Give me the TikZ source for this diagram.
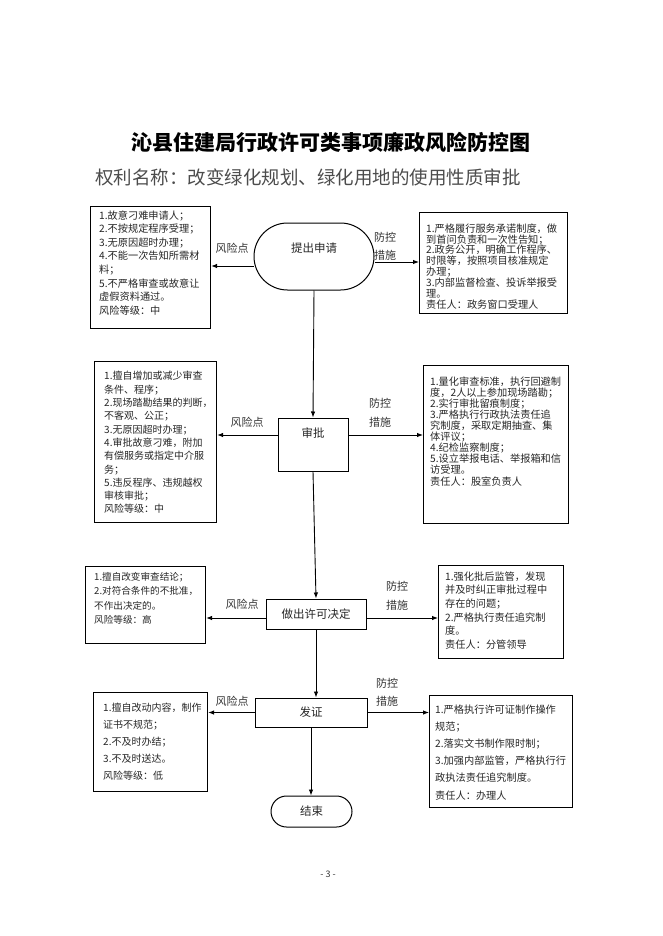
\documentclass[tikz,border=0pt]{standalone}
\usepackage{fontspec}
\setmainfont{Noto Sans CJK SC}
\usetikzlibrary{arrows.meta,shapes.misc}
\newcommand{\boxfont}[2]{\fontsize{#1}{#2}\selectfont}
\tikzset{
  riskbox/.style={draw,line width=1.1pt,anchor=north west,inner sep=0pt},
  bodytext/.style={anchor=north west,inner sep=0pt,align=left,text=black!85},
  stepbox/.style={draw,line width=1pt,inner sep=0pt,text=black!85,font=\boxfont{11.5}{12}},
  termbox/.style={rounded rectangle,draw,line width=1pt,inner sep=0pt,text=black!85,font=\boxfont{11.5}{12}},
  tag/.style={inner sep=0pt,align=center,text=black!80,font=\boxfont{11}{18.5}},
  arr/.style={-{Latex[length=6pt,width=4.5pt]},line width=0.9pt},
  link/.style={line width=0.9pt}
}
\begin{document}
\begin{tikzpicture}[x=1pt,y=-1pt]
\useasboundingbox (0,0) rectangle (662,936);

\node[font=\bfseries\boxfont{21}{21}] (title) at (331,142) {沁县住建局行政许可类事项廉政风险防控图};
\node[anchor=west,inner sep=0pt,text=black!70,font=\boxfont{18.5}{18.5}] (subtitle) at (95,177) {权利名称：改变绿化规划、绿化用地的使用性质审批};

\foreach \n/\x/\y/\w/\h in {risk1/90/206/120/122, ctrl1/419/212/148/101,
  risk2/94/361/122/161, ctrl2/423/365/145/158,
  risk3/85/566/120/77, ctrl3/438/565/125/93,
  risk4/93/692/114/99, ctrl4/429/695/143/112}
  {\node[riskbox,minimum width=\w,minimum height=\h] (\n) at (\x,\y) {};}

\node[bodytext,font=\boxfont{10.2}{13.6}] (risk1t) at (99,210.3) {1.故意刁难申请人；\\2.不按规定程序受理；\\3.无原因超时办理；\\4.不能一次告知所需材\\料；\\5.不严格审查或故意让\\虚假资料通过。\\风险等级：中};
\node[bodytext,font=\boxfont{10.2}{10.9}] (ctrl1t) at (426,223.3) {1.严格履行服务承诺制度，做\\到首问负责和一次性告知；\\2.政务公开，明确工作程序、\\时限等，按照项目核准规定\\办理；\\3.内部监督检查、投诉举报受\\理。\\责任人：政务窗口受理人};
\node[bodytext,font=\boxfont{10}{13.3}] (risk2t) at (104,371.3) {1.擅自增加或减少审查\\条件、程序；\\2.现场踏勘结果的判断，\\不客观、公正；\\3.无原因超时办理；\\4.审批故意刁难，附加\\有偿服务或指定中介服\\务；\\5.违反程序、违规越权\\审核审批；\\风险等级：中};
\node[bodytext,font=\boxfont{10.2}{11.1}] (ctrl2t) at (430,376.3) {1.量化审查标准，执行回避制\\度，2人以上参加现场踏勘；\\2.实行审批留痕制度；\\3.严格执行行政执法责任追\\究制度，采取定期抽查、集\\体评议；\\4.纪检监察制度；\\5.设立举报电话、举报箱和信\\访受理。\\责任人：股室负责人};
\node[bodytext,font=\boxfont{9.6}{14.3}] (risk3t) at (94,572.3) {1.擅自改变审查结论；\\2.对符合条件的不批准，\\不作出决定的。\\风险等级：高};
\node[bodytext,font=\boxfont{10.2}{13.7}] (ctrl3t) at (445,571.3) {1.强化批后监管，发现\\并及时纠正审批过程中\\存在的问题；\\2.严格执行责任追究制\\度。\\责任人：分管领导};
\node[bodytext,font=\boxfont{10}{17}] (risk4t) at (103,703.3) {1.擅自改动内容，制作\\证书不规范；\\2.不及时办结；\\3.不及时送达。\\风险等级：低};
\node[bodytext,font=\boxfont{10.2}{17.2}] (ctrl4t) at (435,704.3) {1.严格执行许可证制作操作\\规范；\\2.落实文书制作限时制；\\3.加强内部监管，严格执行行\\政执法责任追究制度。\\责任人：办理人};

\node[termbox,minimum width=120,minimum height=67,text height=9pt,text depth=18pt] (apply) at (314,256.5) {提出申请};
\node[stepbox,minimum width=70,minimum height=53,text height=9pt,text depth=24pt] (approve) at (313,444.5) {审批};
\node[stepbox,minimum width=100,minimum height=30] (decide) at (316,614) {做出许可决定};
\node[stepbox,minimum width=112,minimum height=29] (issue) at (311,712.5) {发证};
\node[termbox,minimum width=81,minimum height=31] (finish) at (311.5,811.5) {结束};

\draw[arr] (apply.south) -- (approve.north);
\draw[arr] (approve.south) -- (decide.north);
\draw[arr] (decide.south) -- (decide.south |- issue.north);
\draw[arr] (issue.south) -- (issue.south |- finish.north);

\draw[arr] ([yshift=-9.5pt]apply.west) -- ([yshift=-9.5pt]apply.west -| risk1.east);
\draw[arr] ([yshift=-5.5pt]apply.east) -- ([yshift=-5.5pt]apply.east -| ctrl1.west);
\draw[arr] ([yshift=9.5pt]approve.west) -- ([yshift=9.5pt]approve.west -| risk2.east);
\draw[arr] ([yshift=9.5pt]approve.east) -- ([yshift=9.5pt]approve.east -| ctrl2.west);
\draw[arr] ([yshift=-4pt]decide.west) -- ([yshift=-4pt]decide.west -| risk3.east);
\draw[arr] ([yshift=-4pt]decide.east) -- ([yshift=-4pt]decide.east -| ctrl3.west);
\draw[arr] (issue.west) -- (issue.west -| risk4.east);
\draw[arr] (issue.east) -- (issue.east -| ctrl4.west);

\node[tag] (riskpt1) at (232,248) {风险点};
\node[tag] (riskpt2) at (247,422) {风险点};
\node[tag] (riskpt3) at (242,604) {风险点};
\node[tag] (riskpt4) at (232,701) {风险点};
\node[tag] (ctrlpt1) at (385,246.5) {防控\\措施};
\node[tag] (ctrlpt2) at (380,413) {防控\\措施};
\node[tag] (ctrlpt3) at (397,596) {防控\\措施};
\node[tag] (ctrlpt4) at (387,692.5) {防控\\措施};

\node[inner sep=0pt,text=black!80,font=\boxfont{9}{9}] (page) at (328,874) {- 3 -};
\end{tikzpicture}
\end{document}
